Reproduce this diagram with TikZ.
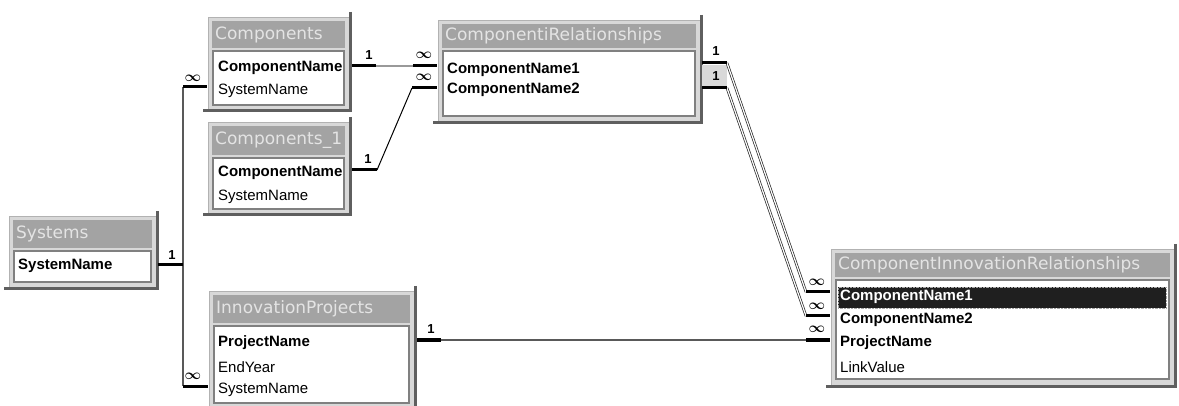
\documentclass[tikz,border=0pt]{standalone}
\usepackage{fontspec}
\setmainfont{Liberation Sans}
\newfontfamily\titlefont{DejaVu Sans}
\definecolor{titlegray}{RGB}{163,163,163}
\definecolor{titletext}{RGB}{228,228,228}
\definecolor{framegray}{RGB}{216,216,216}
\definecolor{shadowgray}{RGB}{95,95,95}
\tikzset{
 tframe/.style={draw=black!30, fill=framegray, line width=0.8pt, anchor=north west, inner sep=0pt, outer sep=0pt},
 tbar/.style={fill=titlegray, anchor=north west, inner sep=0pt, outer sep=0pt},
 fbox/.style={draw=black!50, fill=white, line width=1.2pt, anchor=north west, inner sep=0pt, outer sep=0pt},
 ttext/.style={anchor=west, inner sep=0pt, text=titletext, font=\titlefont\fontsize{17}{17}\selectfont},
 fb/.style={anchor=west, inner sep=0pt, font=\bfseries\fontsize{15}{15}\selectfont},
 fr/.style={anchor=west, inner sep=0pt, font=\fontsize{15}{15}\selectfont},
 shadowline/.style={draw=shadowgray, line width=2.5pt},
 bar/.style={line width=3pt, draw=black},
 link/.style={line width=1.6pt, draw=black!65},
 paleLink/.style={line width=2.5pt, draw=black!40},
 thinLink/.style={line width=1pt, draw=black},
 dline/.style={draw=black!85, line width=0.7pt, double=white, double distance=1.2pt},
 lab/.style={inner sep=0pt, font=\bfseries\fontsize{13}{13}\selectfont},
 many/.style={inner sep=0pt, font=\boldmath\fontsize{15}{15}\selectfont},
}
\newcommand\dbtab[8]{%
 \node[tframe, minimum width={#4-#2}, minimum height={#5-#3}] (#1) at (#2,#3) {};
 \node[tbar, minimum width={#4-#2-8}, minimum height={#6-#3-4}] (#1-t) at (#2+4,#3+4) {};
 \node[ttext] (#1-tt) at (#2+7,{(#3+4+#6)/2}) {#8};
 \node[fbox, minimum width={#4-#2-10}, minimum height={#7-#6-3}] (#1-f) at (#2+5,#6+3) {};
 \draw[shadowline] ([xshift=1.5pt,yshift=5pt]#1.north east) -- ([xshift=1.5pt,yshift=-1.5pt]#1.south east) -- ([xshift=-5pt,yshift=-1.5pt]#1.south west);
}
\begin{document}
\begin{tikzpicture}[x=1pt,y=-1pt]
\useasboundingbox (0,0) rectangle (1179,406);
\fill[white] (0,0) rectangle (1179,406);

% tables
\dbtab{sys}{9}{216}{156}{287}{248}{282}{Systems}
\dbtab{comp}{208}{17}{349}{109}{48}{105}{Components}
\dbtab{comp1}{208}{122}{349}{213}{155}{209}{Components\_1}
\dbtab{cr}{438}{20}{700}{121}{48}{116}{ComponentiRelationships}
\dbtab{cir}{831}{249}{1174}{385}{277}{379}{ComponentInnovationRelationships}
\dbtab{ip}{209}{291}{414}{412}{323}{403}{InnovationProjects}

% fields
\node[fb] (sys-1) at (18,266) {SystemName};
\node[fb] (comp-1) at (218,68) {ComponentName};
\node[fr] (comp-2) at (218,91) {SystemName};
\node[fb] (comp1-1) at (218,173) {ComponentName};
\node[fr] (comp1-2) at (218,197) {SystemName};
\node[fb] (cr-1) at (447,70) {ComponentName1};
\node[fb] (cr-2) at (447,90) {ComponentName2};
\node[fill=black!88, draw=black!35, densely dotted, anchor=north west, minimum width=328, minimum height=21, inner sep=0pt] (cir-hl) at (838,287) {};
\node[fb, text=white] (cir-1) at (840,297) {ComponentName1};
\node[fb] (cir-2) at (840,320) {ComponentName2};
\node[fb] (cir-3) at (840,343) {ProjectName};
\node[fr] (cir-4) at (840,367) {LinkValue};
\node[fb] (ip-1) at (218,343) {ProjectName};
\node[fr] (ip-2) at (218,367) {EndYear};
\node[fr] (ip-3) at (218,390) {SystemName};

% connector: Systems -> Components / InnovationProjects
\coordinate (sysR) at (158,265);
\coordinate (busM) at (183,265);
\coordinate (busT) at (183,87);
\coordinate (busB) at (183,386);
\coordinate (compL) at (207,87);
\coordinate (ipL) at (208,386);
\draw[link] (busT) -- (busB);
\draw[bar] (sysR) -- (busM);
\draw[bar] (busT) -- (compL);
\draw[bar] (busB) -- (ipL);
\node[lab] (l1) at (172,255) {1};
\node[many] (m1) at (193,78) {$\infty$};
\node[many] (m2) at (193,376) {$\infty$};

% Components -> ComponentiRelationships
\coordinate (c2a) at (352,66);
\coordinate (c2b) at (376,66);
\coordinate (c2c) at (413,66);
\coordinate (c2d) at (437,66);
\draw[paleLink] (c2b) -- (c2c);
\draw[bar] (c2a) -- (c2b);
\draw[bar] (c2c) -- (c2d);
\node[lab] (l2) at (369,55) {1};
\node[many] (m3) at (424,55) {$\infty$};

% Components_1 -> ComponentiRelationships
\coordinate (c3a) at (352,170);
\coordinate (c3b) at (377,170);
\coordinate (c3c) at (412,88);
\coordinate (c3d) at (437,88);
\draw[thinLink] (c3b) -- (c3c);
\draw[bar] (c3a) -- (c3b);
\draw[bar] (c3c) -- (c3d);
\node[lab] (l3) at (368,159) {1};
\node[many] (m4) at (424,77) {$\infty$};

% ComponentiRelationships -> ComponentInnovationRelationships
\node[fill=black!15, anchor=north west, minimum width=25, minimum height=22, inner sep=0pt] (selbox) at (702,65) {};
\coordinate (c4a) at (702,63);
\coordinate (c4b) at (727,63);
\coordinate (c4c) at (806,292);
\coordinate (c4d) at (830,292);
\coordinate (c5a) at (702,88);
\coordinate (c5b) at (727,88);
\coordinate (c5c) at (806,316);
\coordinate (c5d) at (830,316);
\draw[dline] (c4b) -- (c4c);
\draw[dline] (c5b) -- (c5c);
\draw[bar] (c4a) -- (c4b);
\draw[bar] (c4c) -- (c4d);
\draw[bar] (c5a) -- (c5b);
\draw[bar] (c5c) -- (c5d);
\node[lab] (l4) at (716,51) {1};
\node[lab] (l5) at (716,76) {1};
\node[many] (m5) at (817,282) {$\infty$};
\node[many] (m6) at (817,306) {$\infty$};

% InnovationProjects -> ComponentInnovationRelationships
\coordinate (c6a) at (417,340);
\coordinate (c6b) at (441,340);
\coordinate (c6c) at (806,340);
\coordinate (c6d) at (830,340);
\draw[link] (c6b) -- (c6c);
\draw[bar] (c6a) -- (c6b);
\draw[bar] (c6c) -- (c6d);
\node[lab] (l6) at (431,329) {1};
\node[many] (m7) at (817,329) {$\infty$};
\end{tikzpicture}
\end{document}
